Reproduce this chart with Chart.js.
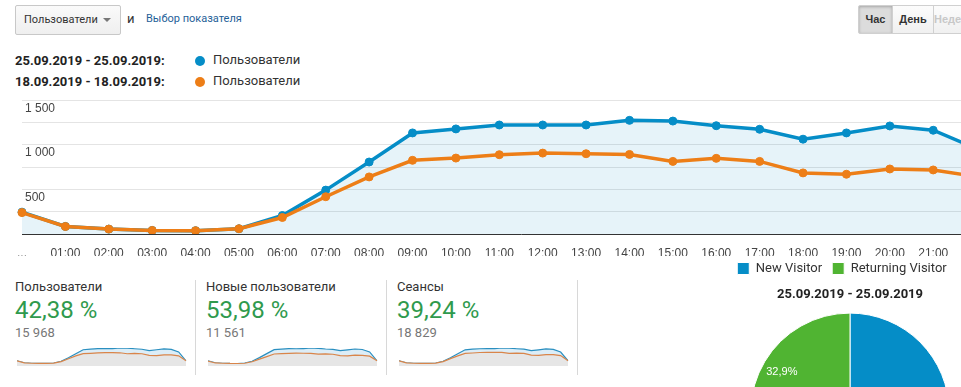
<!DOCTYPE html>
<html>
<head>
<meta charset="utf-8">
<script src="https://cdn.jsdelivr.net/npm/chart.js@4/dist/chart.umd.min.js"></script>
<style>
  html, body { margin: 0; padding: 0; }
  body {
    width: 961px; height: 387px; overflow: hidden; position: relative;
    background: #fff; font-family: Roboto, Arial, sans-serif; color: #333;
  }
  .abs { position: absolute; }
  #metric-select {
    left: 15px; top: 5px; width: 106px; height: 30px; box-sizing: border-box;
    border: 1px solid #c8c8c8; border-radius: 2px;
    background: linear-gradient(#fafafa, #efefef);
    font-size: 11px; line-height: 28px; padding-left: 8px; color: #333;
  }
  #metric-select .caret {
    position: absolute; right: 9px; top: 12px; width: 0; height: 0;
    border-left: 4px solid transparent; border-right: 4px solid transparent;
    border-top: 4px solid #777;
  }
  #and { left: 127px; top: 11px; font-size: 13px; }
  #pick { left: 146px; top: 12px; font-size: 11px; color: #1f5f98; }
  .range { left: 15px; font-size: 13px; font-weight: bold; color: #222; }
  .dot { width: 10px; height: 10px; border-radius: 50%; }
  .series-name { left: 213px; font-size: 13px; color: #333; }
  .btn {
    top: 5px; height: 29px; box-sizing: border-box; border: 1px solid #d0d0d0;
    font-family: Arial, "Liberation Sans", sans-serif;
    font-size: 11px; font-weight: bold; line-height: 27px; text-align: center;
    background: linear-gradient(#fcfcfc, #f0f0f0); color: #333;
  }
  #btn-hour { left: 858px; width: 35px; background: #dcdcdc; box-shadow: inset 0 1px 3px rgba(0,0,0,0.25); border-radius: 2px 0 0 2px; }
  #btn-day { left: 892px; width: 42px; }
  #btn-week { left: 933px; width: 40px; color: #c8c8c8; }
  .card-title { font-size: 13px; color: #333; top: 279px; }
  .card-value { font-size: 24px; color: #2f9a4d; top: 296px; }
  .card-sub { font-size: 13px; color: #777; top: 325px; }
  .divider { top: 280px; width: 1px; height: 95px; background: #d8d8d8; }
  canvas { position: absolute; }
</style>
</head>
<body>
<div id="metric-select" class="abs">Пользователи<span class="caret"></span></div>
<div id="and" class="abs">и</div>
<div id="pick" class="abs">Выбор показателя</div>

<div class="abs btn" id="btn-hour">Час</div>
<div class="abs btn" id="btn-day">День</div>
<div class="abs btn" id="btn-week">Неделя</div>

<div class="abs range" style="top:53px">25.09.2019 - 25.09.2019:</div>
<div class="abs dot" style="left:195px;top:56px;background:#058dc7"></div>
<div class="abs series-name" style="top:52px">Пользователи</div>
<div class="abs range" style="top:74px">18.09.2019 - 18.09.2019:</div>
<div class="abs dot" style="left:195px;top:77px;background:#ed7e17"></div>
<div class="abs series-name" style="top:73px">Пользователи</div>

<canvas id="main" width="1040" height="166" style="left:0;top:90px"></canvas>

<div class="abs card-title" style="left:15px">Пользователи</div>
<div class="abs card-value" style="left:15px">42,38 %</div>
<div class="abs card-sub" style="left:15px">15 968</div>
<canvas id="spark1" width="170" height="20" style="left:17px;top:346px"></canvas>
<div class="abs divider" style="left:195px"></div>

<div class="abs card-title" style="left:206px">Новые пользователи</div>
<div class="abs card-value" style="left:206px">53,98 %</div>
<div class="abs card-sub" style="left:206px">11 561</div>
<canvas id="spark2" width="170" height="20" style="left:208px;top:346px"></canvas>
<div class="abs divider" style="left:386px"></div>

<div class="abs card-title" style="left:397px">Сеансы</div>
<div class="abs card-value" style="left:397px">39,24 %</div>
<div class="abs card-sub" style="left:397px">18 829</div>
<canvas id="spark3" width="170" height="20" style="left:399px;top:346px"></canvas>
<div class="abs divider" style="left:577px"></div>

<canvas id="pie" width="300" height="260" style="left:700px;top:252px"></canvas>

<script>
'use strict';

// Categories and tick labels
const hours = ['...', '01:00', '02:00', '03:00', '04:00', '05:00', '06:00', '07:00',
  '08:00', '09:00', '10:00', '11:00', '12:00', '13:00', '14:00', '15:00',
  '16:00', '17:00', '18:00', '19:00', '20:00', '21:00', '22:00', '23:00'];
const yTickValues = [500, 1000, 1500];
const yTickLabels = ['500', '1 000', '1 500'];

// Users per hour, 25.09 vs 18.09
const usersCur = [245, 85, 55, 40, 37, 59, 207, 492, 807, 1133, 1178, 1222,
  1222, 1222, 1274, 1266, 1214, 1174, 1063, 1133, 1211, 1163, 957, 250];
const usersPrev = [240, 84, 55, 40, 37, 59, 185, 418, 640, 826, 851, 889,
  907, 900, 892, 814, 848, 814, 685, 670, 729, 718, 644, 245];

// Sparklines for the other scorecards
const newUsersCur = [180, 60, 40, 28, 27, 44, 160, 380, 620, 860, 890, 920,
  915, 925, 960, 940, 900, 880, 800, 850, 900, 870, 720, 190];
const newUsersPrev = [175, 58, 40, 28, 26, 42, 130, 290, 440, 600, 620, 640,
  650, 645, 640, 590, 610, 585, 500, 490, 530, 520, 470, 185];
const sessionsCur = [290, 100, 64, 47, 43, 69, 245, 580, 950, 1330, 1385, 1430,
  1435, 1440, 1500, 1490, 1430, 1385, 1250, 1330, 1420, 1370, 1120, 300];
const sessionsPrev = [285, 98, 64, 46, 43, 68, 220, 500, 760, 1000, 1030, 1075,
  1095, 1088, 1080, 985, 1025, 985, 835, 815, 885, 870, 785, 295];

// Visitor type share
const visitorTypes = ['New Visitor', 'Returning Visitor'];
const visitorShare = [67.1, 32.9];

const BLUE = '#058dc7';
const ORANGE = '#ed7e17';
const GREEN = '#50b432';

Chart.defaults.font.family = 'Arial, "Liberation Sans", sans-serif';
Chart.defaults.animation = false;

// Main hourly chart
new Chart(document.getElementById('main'), {
  type: 'line',
  data: {
    labels: hours,
    datasets: [{
      label: 'Пользователи 25.09',
      data: usersCur,
      borderColor: BLUE,
      backgroundColor: BLUE,
      pointBackgroundColor: BLUE,
      fill: { target: 'origin', above: 'rgba(5,141,199,0.1)' },
      order: 1
    }, {
      label: 'Пользователи 18.09',
      data: usersPrev,
      borderColor: ORANGE,
      backgroundColor: ORANGE,
      pointBackgroundColor: ORANGE,
      fill: false,
      order: 0
    }]
  },
  options: {
    responsive: false,
    devicePixelRatio: 1,
    layout: { padding: { left: 22, right: 20, top: 9, bottom: 0 } },
    elements: {
      line: { borderWidth: 3.5, tension: 0 },
      point: { radius: 4, borderWidth: 1, hoverRadius: 5 }
    },
    plugins: { legend: { display: false }, tooltip: { enabled: false } },
    scales: {
      x: {
        grid: { display: false },
        border: { display: true, color: '#333', width: 1 },
        ticks: { autoSkip: false, maxRotation: 0, padding: 4, color: '#444', font: { size: 12 } },
        afterFit: (s) => { s.height = 22; s.paddingLeft = 0; s.paddingRight = 0; }
      },
      y: {
        min: 0,
        max: 1500,
        grid: { color: '#e4e4e4', drawTicks: false },
        border: { display: false },
        ticks: {
          stepSize: 250,
          mirror: true,
          padding: 3,
          labelOffset: 8,
          color: '#444',
          font: { size: 12 },
          callback: (v) => {
            const i = yTickValues.indexOf(v);
            return i >= 0 ? yTickLabels[i] : '';
          }
        },
        afterFit: (s) => { s.width = 0; }
      }
    }
  }
});

// Scorecard sparklines
function sparkline(id, cur, prev) {
  const top = Math.max(...cur);
  new Chart(document.getElementById(id), {
    type: 'line',
    data: {
      labels: hours,
      datasets: [{
        data: cur,
        borderColor: '#2a8fc0',
        backgroundColor: '#dcedf7',
        fill: 'start',
        order: 1
      }, {
        data: prev,
        borderColor: '#d9854a',
        backgroundColor: '#e6e6e6',
        fill: 'start',
        order: 0
      }]
    },
    options: {
      responsive: false,
      devicePixelRatio: 1,
      layout: { padding: { top: 2, bottom: 0, left: 0, right: 1 } },
      elements: { line: { borderWidth: 1.2, tension: 0 }, point: { radius: 0 } },
      plugins: { legend: { display: false }, tooltip: { enabled: false } },
      scales: {
        x: { display: false },
        y: { display: false, min: -top * 0.13, max: top }
      }
    }
  });
}
sparkline('spark1', usersCur, usersPrev);
sparkline('spark2', newUsersCur, newUsersPrev);
sparkline('spark3', sessionsCur, sessionsPrev);

// Percent labels inside pie slices
const sliceLabels = {
  id: 'sliceLabels',
  afterDatasetsDraw(chart) {
    const ctx = chart.ctx;
    const meta = chart.getDatasetMeta(0);
    ctx.save();
    ctx.fillStyle = '#fff';
    ctx.font = '11px Arial, "Liberation Sans", sans-serif';
    ctx.textAlign = 'center';
    ctx.textBaseline = 'middle';
    meta.data.forEach((arc, i) => {
      const mid = (arc.startAngle + arc.endAngle) / 2;
      const r = arc.outerRadius * 0.8;
      const text = visitorShare[i].toFixed(1).replace('.', ',') + '%';
      ctx.fillText(text, arc.x + Math.cos(mid) * r, arc.y + Math.sin(mid) * r);
    });
    ctx.restore();
  }
};

// The legend sits a little left of the pie centre in the original
const legendNudge = {
  id: 'legendNudge',
  afterLayout(chart) {
    chart.legend.left -= 8;
    chart.legend.right -= 8;
  }
};

new Chart(document.getElementById('pie'), {
  type: 'pie',
  data: {
    labels: visitorTypes,
    datasets: [{
      data: visitorShare,
      backgroundColor: [BLUE, GREEN],
      borderColor: '#fff',
      borderWidth: 1
    }]
  },
  options: {
    responsive: false,
    devicePixelRatio: 1,
    layout: { padding: 0 },
    plugins: {
      tooltip: { enabled: false },
      legend: {
        position: 'top',
        weight: 3000,
        labels: {
          boxWidth: 12, boxHeight: 12, padding: 10,
          color: '#333', font: { family: 'Roboto, Arial, sans-serif', size: 13 }
        }
      },
      title: {
        display: true,
        text: '25.09.2019 - 25.09.2019',
        color: '#222',
        font: { family: 'Roboto, Arial, sans-serif', size: 13, weight: 'bold' },
        padding: { top: 2, bottom: 10 }
      }
    }
  },
  plugins: [sliceLabels, legendNudge]
});
</script>
</body>
</html>
